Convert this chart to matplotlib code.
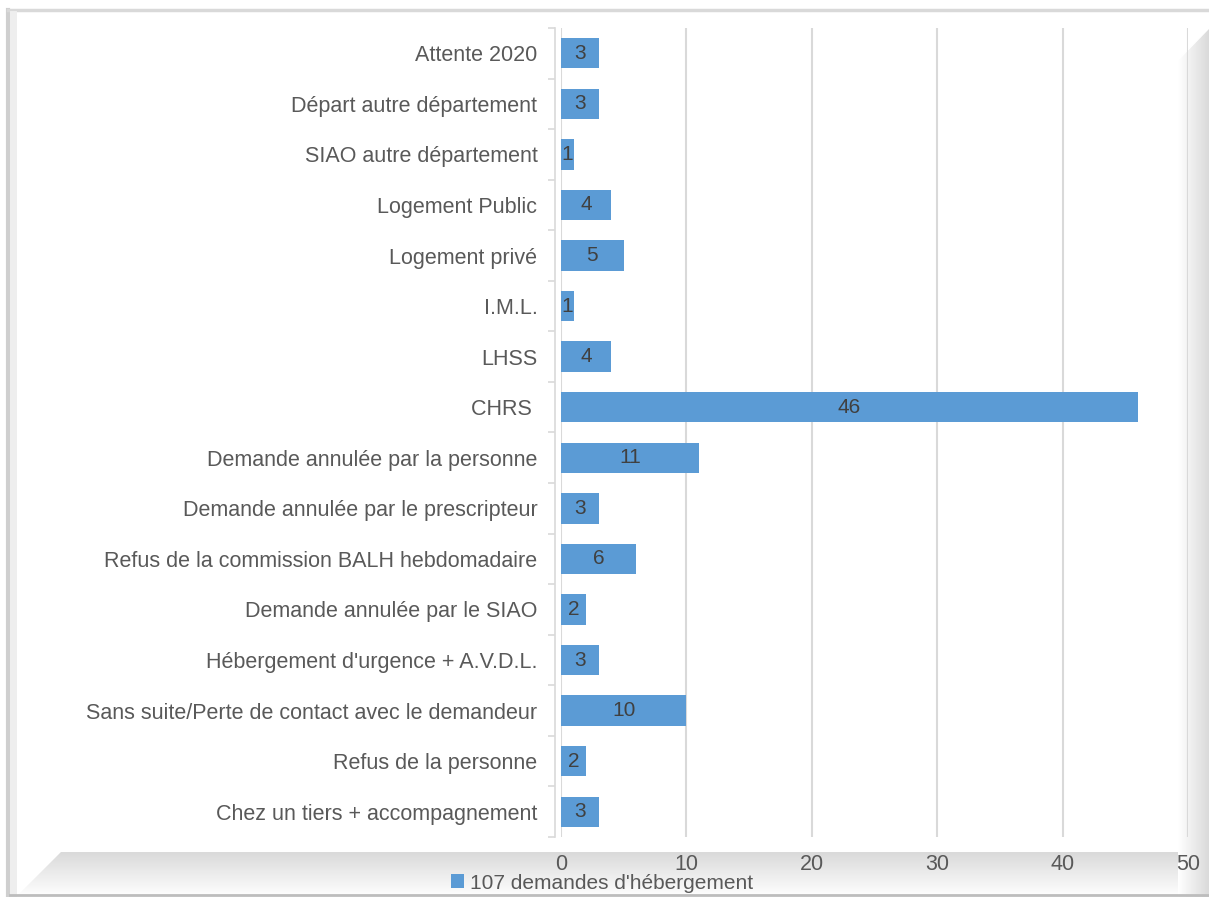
import numpy as np
import matplotlib.pyplot as plt
from matplotlib.patches import Polygon
from matplotlib.colors import LinearSegmentedColormap

# categories from top to bottom as in the picture
categories = [
    "Attente 2020",
    "Départ autre département",
    "SIAO autre département",
    "Logement Public",
    "Logement privé",
    "I.M.L.",
    "LHSS",
    "CHRS ",
    "Demande annulée par la personne",
    "Demande annulée par le prescripteur",
    "Refus de la commission BALH hebdomadaire",
    "Demande annulée par le SIAO",
    "Hébergement d'urgence + A.V.D.L.",
    "Sans suite/Perte de contact avec le demandeur",
    "Refus de la personne",
    "Chez un tiers + accompagnement",
]
values = [3, 3, 1, 4, 5, 1, 4, 46, 11, 3, 6, 2, 3, 10, 2, 3]
series_name = "107 demandes d'hébergement"
xticks = [0, 10, 20, 30, 40, 50]

plt.rcParams['font.family'] = ['Liberation Sans', 'DejaVu Sans']
txt = '#595959'
grid = '#D9D9D9'
blue = '#5B9BD5'

fig = plt.figure(figsize=(12.09, 8.97), dpi=100)
W, H = 1209, 897

# outer frame with a soft shadow look
bg = fig.add_axes([0, 0, 1, 1], zorder=-5)
bg.set_xlim(0, W)
bg.set_ylim(H, 0)
bg.axis('off')
soft = LinearSegmentedColormap.from_list('soft', ['#FFFFFF', '#DADADA'])
ramp = np.linspace(0, 1, 80)
# bottom band
bg.imshow(ramp.reshape(-1, 1), extent=(10, 1209, 852, 897), cmap=soft,
          aspect='auto', origin='upper', zorder=0)
bg.add_patch(Polygon([(10, 897), (10, 850), (62, 850), (15, 897)],
                     closed=True, color='white', zorder=1))
# right band
bg.imshow(ramp.reshape(1, -1), extent=(1178, 1209, 897, 22), cmap=soft,
          aspect='auto', zorder=0)
bg.add_patch(Polygon([(1170, 22), (1209, 22), (1209, 28), (1178, 60)],
                     closed=True, color='white', zorder=1))
bg.plot([8, 8], [10, 897], color='#CFCFCF', lw=3, zorder=2)
bg.plot([8, 1209], [10, 10], color='#D9D9D9', lw=2.5, zorder=2)
bg.plot([13, 13], [14, 897], color='#EEEEEE', lw=5, zorder=2)
bg.plot([10, 1209], [895.5, 895.5], color='#BDBDBD', lw=2, zorder=2)

ax = fig.add_axes([561 / W, 1 - 837 / H, (1188 - 561) / W, (837 - 28) / H])
ax.patch.set_alpha(0)
y = np.arange(len(categories))
bars = ax.barh(y, values, height=0.6, color=blue, label=series_name, zorder=3)
ax.bar_label(bars, labels=[str(v) for v in values], label_type='center',
             color='#404040', fontsize=15)

ax.set_ylim(len(categories) - 0.5, -0.5)
ax.set_xlim(0, 50)
ax.set_xticks(xticks)
ax.set_yticks(y)
ax.set_yticklabels(categories)
ax.set_yticks(np.arange(len(categories) + 1) - 0.5, minor=True)
ax.tick_params(axis='y', which='major', length=0, pad=13, labelsize=15.5,
               labelcolor=txt)
ax.tick_params(axis='y', which='minor', length=5, color=grid, width=1.2)
ax.tick_params(axis='x', length=0, pad=12, labelsize=15.5, labelcolor=txt)
ax.xaxis.grid(True, color=grid, lw=1.5, zorder=0)
for s in ['top', 'right', 'bottom']:
    ax.spines[s].set_visible(False)
ax.spines['left'].set_color(grid)
ax.spines['left'].set_linewidth(1.2)
ax.spines['left'].set_position(('outward', 4))

leg = fig.legend(loc='center', bbox_to_anchor=(602 / W, 1 - 883 / H),
                 frameon=False, fontsize=15, handlelength=0.65,
                 handleheight=0.65, handletextpad=0.3, labelcolor=txt,
                 borderpad=0.1)

fig.savefig('out.png', dpi=100)
